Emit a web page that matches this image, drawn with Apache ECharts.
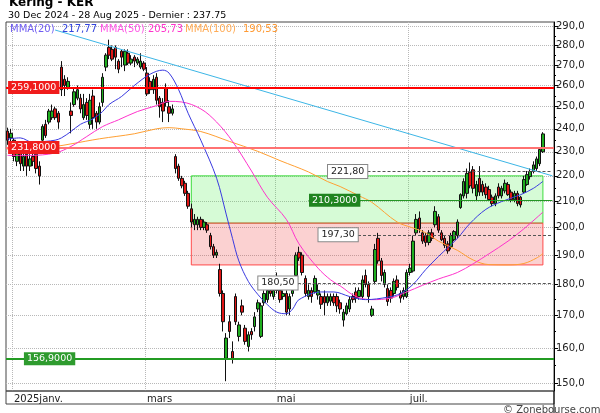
<!DOCTYPE html>
<html><head><meta charset="utf-8">
<script src="https://cdn.jsdelivr.net/npm/echarts/dist/echarts.min.js"></script>
<style>html,body{margin:0;padding:0;background:#fff}#c{width:600px;height:413px}</style>
</head><body><div id="c"></div>
<script>
// ---- data ----
const opens = [239,236,235,226,230,224,229,224,228,229,
224,235,242,243,245,249,247,269,263,259,
248,251,254,254,245,252,242,255,247,243,
252,269,279,278,279,272,277,270,276,271,
274,271,269,271,266,262,258,264,254,252,
259,250,247,228,224,219,217,213,207,201,
201,203,200,201,197,193,190,185,177,157,
168,159,176,163.5,173,166,160.5,165,166.5,172,
163.5,174,175,178,176,178,178,176,177,172,
177,183,191,190,182,176,178,177.5,176.5,176,
176,174,174.5,176,176,174,168.5,170.5,172,176,
177.5,176,176,183,180,170,181,196,188,180,
178.6,178,177,181.5,177,176,176,184,184.5,198,
203.5,198,197,194.5,198,201,204,198,196,194,
193,195.5,197,207.5,212,213,221.5,222.5,212,219,
216.5,215.5,214.5,211.5,209,215.5,212,214,216.5,213.5,
210.5,213,211.5,213.5,216.5,219.7,221.8,223,225,230];
const closes = [235,238,228,230,225,228,224,227,226,223,
220,241,237,248,248,245,243,258,260,262,
246,257,258,249,251,246,253,245,243,250,
264,275,275,273,274,268,274,277,271,273,
272,273,272,268,256,258,263,253,250,248,
252,247,249,223,219,216,213,208,202,203,
203,200,202,199,193,190,191,177,168,163,
165,157,168,167,171,162,164,164,169.5,174,
173,177,178,177,178,181,175,177,171,176,
178,190,189,184,177,178,176,182,178,173.5,
174,176,176,174,173,172,171,173,175,175,
175.5,178,181.5,180,176,172,192,188,183,184,
174.4,175.5,181,179,175.5,178,184,185.5,195,203,
199.5,195,194.5,198,196,206,199,195.5,193.5,191.5,
197,198.5,202,212.5,217.7,221,216,215,216.5,213.5,
213.5,212.5,210.6,209,212,212,215,217,212.5,210.5,
213,209,208.5,218.5,220.5,221.8,224.5,227,231,237.75];
const lows = [233,234,226,224,222,222,220,222,224,221,
216.5,234,236,242,244,244,240,255,255,258,
238,250,253,247,244,244,240,240,240,242,
250,267,273,272,268,266,269,267,270,270,
269,270,268,267,255,256,256,251,245,243,
250,243,246,221,218,215,212,207,200,199,
199,199,199,198,192,189,189,176,165,150.5,
163,155.5,167,162,170,161,159,162.5,165,171,
163,173,174,176,175,177,174,175,170,170,
176,182,188,183,176,175,174,177,175,172,
170,173,173,173,171,170.5,166.5,170,171,174,
174,175,175,179,174,169.5,180,187,181,179,
173,174,176,178,174,175,175.5,183,184,197,
198,194,193,193.5,195,200,198,195,192.5,190.5,
192,195,196,207,211,211,215,213,210,212,
212,211,210,208,208,211,211,213,212,209.5,
209.5,208,207.5,213,216,218.5,221,222,224,229.5];
const highs = [240.5,240,236,231,232,230,231,229,230,230,
226,242,244,249,251,250,248,272,265,264,
252,259,260,256,256,254,256,258,248,252,
266,276,283,280,280,273,278,278,278,275,
275,274,276,272,269,264,265,266,255,254,
261,253,251,229,225,220,218,214,209,205,
204,204,203,202,198,194,192,187,178,164.5,
170,162,177,168,175,167,165,166,171,175,
174,178,179,179,179,184,179,178,178,177,
179.5,191,193,191,183,180,179,183,180,177,
178,177,177,177,177,175,172,174,176,177,
179,179,183,185,181,173,194,198,189,185,
180,179,182,183,178,179,185,187,197,205,
206,199,198,199,199.5,208,205,199,197,195,
198,199,203,213,219,223,225.5,224,218,224,
218,217,216,212.5,213,217,216,218.5,217.5,214.5,
214,214,212,220,222,223,226,228,232,238.5];

// moving averages: [candle index, value]
const ma20 = [[0,235.5],[4,236],[8,234],[12,234.5],[15,235],[17,236],[20,238.8],[23,242],[27,244.5],[30,247.8],[32,251],[36,254.8],[40,260],[45,265.5],[49,267.5],[51,266],[54,258],[57,247],[61,235],[66,219],[69,205],[71,196],[73,188],[76,181],[79,176.7],[82,173.4],[85,171],[88,170.5],[90,172],[92,175],[99,177.5],[103,177.5],[108,176],[113,175],[120,175.8],[124,177],[128,180],[132,185],[136,189.5],[142,196],[146,201.5],[151,206.8],[156,209.8],[162,212.5],[166,215],[169,217.77]];
const ma50 = [[0,228.5],[7,228.5],[15,229.5],[20,232.3],[25,236.6],[30,241],[35,244],[41,247.8],[47,250.5],[51,252.5],[55,252.2],[61,249],[66,243],[71,234.5],[77,222],[82,211.5],[88,203],[92,194],[98,185.5],[102,181.5],[105,179.5],[110,176],[115,175],[121,175.5],[126,177.5],[131,179.7],[136,181.8],[142,184],[147,187],[152,190.5],[158,195],[163,199.5],[169,205.73]];
const ma100 = [[0,231],[7,231.5],[15,232.3],[20,233.4],[29,235.6],[40,237.8],[47,240],[51,240.5],[55,240],[61,238.8],[70,234.5],[79,230.2],[86,226.3],[95,221.6],[101,217.7],[105,215.7],[111,212],[115,209.5],[123,202],[128,199.8],[132,198],[136,195],[142,191.7],[147,188.3],[152,186.7],[158,186.6],[163,187.1],[167,189],[169,190.53]];
const trendLine = [[15,288.1],[172,220.0]];

const redLevels = [259.1, 231.8];
const supportLevel = 156.9;
const greenLevel = 210.3;
const dashedLevels = [221.8, 197.3, 180.5];
const greenZone = [201.6, 220.0];
const redZone = [186.6, 201.6];

const yTicks = [150,160,170,180,190,200,210,220,230,240,250,260,270,280,290];
const yMinorTicks = [155,165,175,185,195,205,215,225,235,245,255,265,275,285];
const monthNames = ['2025janv.','mars','mai','juil.'];
const monthIdx = [2,44,85,127];

// ---- build ----
const FONT = 'DejaVu Sans';
const nCat = closes.length + 3;
const categories = Array.from({length:nCat}, (_, i) => 'c' + i);
const candleData = opens.map((o, i) => [o, closes[i], lows[i], highs[i]]);
const last = (a) => a[a.length - 1][1];
const fmt = (v, d) => v.toFixed(d).replace('.', ',');
const lastIdx = nCat - 1;

const chart = echarts.init(document.getElementById('c'));
const yMin = 147.8, yMax = 292.4;

const option = {
  animation: false,
  backgroundColor: '#fff',
  grid: {left: 6, right: 46, top: 22, bottom: 22, show: true, borderColor: '#444', borderWidth: 1, backgroundColor: '#fff'},
  xAxis: {
    type: 'category', data: categories, boundaryGap: true,
    axisLine: {show: false}, axisTick: {show: false},
    axisLabel: {
      interval: (i) => monthIdx.includes(i),
      formatter: (v, i) => monthNames[monthIdx.indexOf(i)] || '',
      align: 'left', fontSize: 10, color: '#222', margin: 3, fontFamily: FONT
    },
    splitLine: {show: true, interval: (i) => monthIdx.includes(i), lineStyle: {type: 'dotted', color: '#b8b8b8'}}
  },
  yAxis: [
    {
      type: 'log', logBase: 10, min: yMin, max: yMax, position: 'right',
      axisLine: {show: true, lineStyle: {color: '#000'}},
      axisTick: {show: true, customValues: yTicks, length: 4, lineStyle: {color: '#000'}},
      axisLabel: {customValues: yTicks, formatter: (v) => fmt(v, 1), fontSize: 10, color: '#222', margin: 2, fontFamily: FONT},
      splitLine: {show: true, lineStyle: {type: 'dotted', color: '#b8b8b8'}}
    },
    {
      type: 'log', logBase: 10, min: yMin, max: yMax, position: 'right',
      axisLine: {show: false},
      axisTick: {show: true, customValues: yMinorTicks, length: 2, lineStyle: {color: '#000'}},
      axisLabel: {show: false}, splitLine: {show: false}
    }
  ],
  series: [
    {
      type: 'line', data: [], z: 1, silent: true,
      markArea: {
        silent: true,
        data: [
          [{coord: [58, greenZone[1]], itemStyle: {color: 'rgba(70,235,70,0.22)', borderColor: '#3ddc3d', borderWidth: 1}}, {coord: [169, greenZone[0]]}],
          [{coord: [58, redZone[1]], itemStyle: {color: 'rgba(240,70,70,0.25)', borderColor: '#ff4a4a', borderWidth: 1}}, {coord: [169, redZone[0]]}]
        ]
      }
    },
    {
      type: 'candlestick', data: candleData, z: 3, barWidth: 3,
      itemStyle: {color: '#1fae1f', color0: '#e01515', borderColor: '#111', borderColor0: '#111', borderWidth: 1}
    },
    {type: 'line', data: ma100, z: 4, showSymbol: false, smooth: 0.35, lineStyle: {color: '#ffa033', width: 1}},
    {type: 'line', data: ma50, z: 4, showSymbol: false, smooth: 0.35, lineStyle: {color: '#ff33cc', width: 1}},
    {type: 'line', data: ma20, z: 4, showSymbol: false, smooth: 0.35, lineStyle: {color: '#3a3ae0', width: 1}},
    {type: 'line', data: trendLine, z: 4, showSymbol: false, lineStyle: {color: '#3cb6e6', width: 1}},
    {
      type: 'line', data: [], z: 5, silent: true,
      markLine: {
        silent: true, symbol: ['none', 'none'], label: {show: false},
        data: [
          {yAxis: redLevels[0], lineStyle: {color: '#ff0000', width: 2, type: 'solid'}},
          {yAxis: redLevels[1], lineStyle: {color: '#ff7272', width: 2, type: 'solid'}},
          {yAxis: supportLevel, lineStyle: {color: '#239b23', width: 2, type: 'solid'}},
          [{coord: [95, greenLevel], lineStyle: {color: '#249624', width: 1, type: 'solid'}}, {coord: [lastIdx, greenLevel]}],
          [{coord: [101, dashedLevels[0]], lineStyle: {color: '#555', width: 1, type: [3, 2]}}, {coord: [lastIdx, dashedLevels[0]]}],
          [{coord: [98, dashedLevels[1]], lineStyle: {color: '#555', width: 1, type: [3, 2]}}, {coord: [lastIdx, dashedLevels[1]]}],
          [{coord: [79, dashedLevels[2]], lineStyle: {color: '#555', width: 1, type: [3, 2]}}, {coord: [lastIdx, dashedLevels[2]]}]
        ]
      },
      markPoint: {
        silent: true, symbol: 'rect', symbolSize: 1, itemStyle: {color: 'rgba(0,0,0,0)'},
        label: {show: true, position: 'right', distance: 0, formatter: '{b}', fontSize: 9.5, fontFamily: FONT},
        data: [
          {name: fmt(redLevels[0], 4), coord: [0, redLevels[0]], label: {color: '#fff', backgroundColor: '#f01c1c', padding: [2, 3, 1, 3]}},
          {name: fmt(redLevels[1], 4), coord: [0, redLevels[1]], label: {color: '#fff', backgroundColor: '#f01c1c', padding: [2, 3, 1, 3]}},
          {name: fmt(supportLevel, 4), coord: [5, supportLevel], label: {color: '#fff', backgroundColor: '#2e9b2e', padding: [2, 3, 1, 3]}},
          {name: fmt(greenLevel, 4), coord: [95, greenLevel], label: {color: '#fff', backgroundColor: '#1f841f', padding: [2, 3, 1, 3]}},
          {name: fmt(dashedLevels[0], 2), coord: [101, dashedLevels[0]], label: {color: '#222', backgroundColor: '#fff', borderColor: '#888', borderWidth: 1, padding: [2, 3, 1, 3]}},
          {name: fmt(dashedLevels[1], 2), coord: [98, dashedLevels[1]], label: {color: '#222', backgroundColor: '#fff', borderColor: '#888', borderWidth: 1, padding: [2, 3, 1, 3]}},
          {name: fmt(dashedLevels[2], 2), coord: [79, dashedLevels[2]], label: {color: '#222', backgroundColor: '#fff', borderColor: '#888', borderWidth: 1, padding: [2, 3, 1, 3]}}
        ]
      }
    }
  ],
  graphic: [
    {type: 'text', x: 9, y: -3, z: 10, style: {text: 'Kering - KER', font: 'bold 12px "DejaVu Sans"', fill: '#000'}},
    {type: 'text', x: 8, y: 10.5, z: 10, style: {text: '30 Dec 2024 - 28 Aug 2025 - Dernier : ' + closes[closes.length - 1].toFixed(2), font: '9.5px "DejaVu Sans"', fill: '#000'}},
    {type: 'text', x: 10, y: 24.5, z: 10, style: {text: 'MMA(20)', font: '10px "DejaVu Sans"', fill: '#6f5cf2'}},
    {type: 'text', x: 62, y: 24.5, z: 10, style: {text: fmt(last(ma20), 2), font: '10px "DejaVu Sans"', fill: '#3344dd'}},
    {type: 'text', x: 100, y: 24.5, z: 10, style: {text: 'MMA(50)', font: '10px "DejaVu Sans"', fill: '#ff55e6'}},
    {type: 'text', x: 148, y: 24.5, z: 10, style: {text: fmt(last(ma50), 2), font: '10px "DejaVu Sans"', fill: '#ff33cc'}},
    {type: 'text', x: 185, y: 24.5, z: 10, style: {text: 'MMA(100)', font: '10px "DejaVu Sans"', fill: '#ffab55'}},
    {type: 'text', x: 243, y: 24.5, z: 10, style: {text: fmt(last(ma100), 2), font: '10px "DejaVu Sans"', fill: '#ff9a33'}},
    {type: 'rect', z: 10, shape: {x: 6, y: 391, width: 548, height: 13}, style: {fill: 'none', stroke: '#444', lineWidth: 1}},
    {type: 'line', z: 10, shape: {x1: 554, y1: 391, x2: 554, y2: 413}, style: {stroke: '#000', lineWidth: 1}},
    {type: 'text', x: 503, y: 405, z: 10, style: {text: '© Zonebourse.com', font: '10px "DejaVu Sans"', fill: '#444'}}
  ]
};
chart.setOption(option);
</script>
</body></html>
